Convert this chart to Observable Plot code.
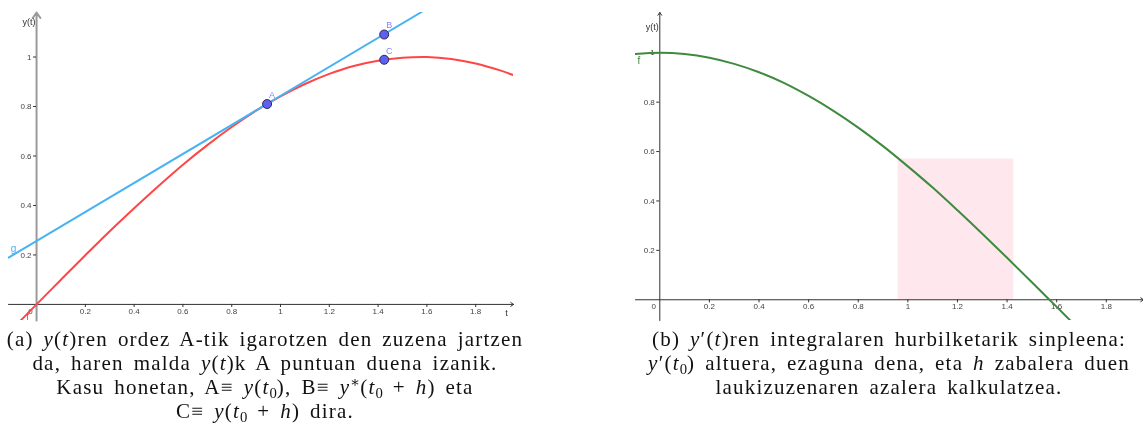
<!DOCTYPE html>
<html><head><meta charset="utf-8">
<script src="https://cdn.jsdelivr.net/npm/d3@7"></script>
<script src="https://cdn.jsdelivr.net/npm/@observablehq/plot@0.6"></script>
<style>
html,body{margin:0;padding:0;background:#fff;width:1143px;height:427px;overflow:hidden;position:relative}
#a{position:absolute;left:0;top:0}
#b{position:absolute;left:620px;top:0}
.cap{position:absolute;font-family:"Liberation Serif","DejaVu Serif",serif;font-size:21px;line-height:24px;letter-spacing:1.2px;word-spacing:3.5px;text-align:center;color:#111;white-space:nowrap}
.cap sub{font-size:0.7em;vertical-align:-0.25em;line-height:0;letter-spacing:0}
.cap sup{font-size:0.7em;vertical-align:0.45em;line-height:0;letter-spacing:0}
</style></head><body>
<div id="a"></div><div id="b"></div>
<div class="cap" style="left:0;width:530px;top:327px">(a) <i>y</i>(<i>t</i>)ren ordez A-tik igarotzen den zuzena jartzen<br>da, haren malda <i>y</i>(<i>t</i>)k A puntuan duena izanik.<br>Kasu honetan, A≡ <i>y</i>(<i>t</i><sub>0</sub>), B≡ <i>y</i><sup>∗</sup>(<i>t</i><sub>0</sub> + <i>h</i>) eta<br>C≡ <i>y</i>(<i>t</i><sub>0</sub> + <i>h</i>) dira.</div>
<div class="cap" style="left:620px;width:538px;top:327px">(b) <i>y</i>′(<i>t</i>)ren integralaren hurbilketarik sinpleena:<br><i>y</i>′(<i>t</i><sub>0</sub>) altuera, ezaguna dena, eta <i>h</i> zabalera duen<br>laukizuzenaren azalera kalkulatzea.</div>
<script>
// ---- data ----
const redT = [-0.12, 0, 0.1, 0.2, 0.3, 0.4, 0.5, 0.6, 0.7, 0.8, 0.9, 1.0, 1.1, 1.2, 1.3, 1.4, 1.5, 1.6, 1.7, 1.8, 1.9, 1.96];
const redY = [-0.12, 0, 0.10, 0.199, 0.296, 0.389, 0.479, 0.565, 0.644, 0.717, 0.783, 0.841, 0.891, 0.932, 0.964, 0.985, 0.997, 1.0, 0.992, 0.974, 0.946, 0.925];
const tangentT = [-0.115, 1.58];
const tangentY = [0.189, 1.183];
const pointNames = ["A", "B", "C"];
const pointT = [0.945, 1.425, 1.425];
const pointY = [0.81, 1.091, 0.989];

const greenT = [-0.1, 0, 0.1, 0.2, 0.3, 0.4, 0.5, 0.6, 0.7, 0.8, 0.9, 1.0, 1.1, 1.2, 1.3, 1.4, 1.5, 1.6, 1.7];
const greenY = [0.995, 1, 0.995, 0.980, 0.955, 0.921, 0.878, 0.825, 0.765, 0.697, 0.622, 0.540, 0.454, 0.362, 0.267, 0.170, 0.071, -0.029, -0.129];
const rectStart = 0.961;
const rectEnd = 1.427;
const rectHeight = 0.57;

const xTicks = [0.2, 0.4, 0.6, 0.8, 1, 1.2, 1.4, 1.6, 1.8];
const yTicks = [0.2, 0.4, 0.6, 0.8, 1];
const xTickLabels = ["0.2", "0.4", "0.6", "0.8", "1", "1.2", "1.4", "1.6", "1.8"];
const yTickLabels = ["0.2", "0.4", "0.6", "0.8", "1"];

const leftXDomain = [-0.115, 1.955];
const leftYDomain = [-0.065, 1.18];
const rightXDomain = [-0.098, 1.95];
const rightYDomain = [-0.084, 1.163];

// ---- build tables ----
const red = redT.map((t, i) => ({t, y: redY[i]}));
const tangent = tangentT.map((t, i) => ({t, y: tangentY[i]}));
const pts = pointNames.map((n, i) => ({n, t: pointT[i], y: pointY[i]}));
const green = greenT.map((t, i) => ({t, y: greenY[i]}));
const xt = xTicks.map((v, i) => ({v, s: xTickLabels[i]}));
const yt = yTicks.map((v, i) => ({v, s: yTickLabels[i]}));

const sans = "Liberation Sans, Arial, sans-serif";
const tickFont = {fontFamily: sans, fontSize: 8, fill: "#444"};

function axes(xDom, yDom, yAxisColor, yAxisWidth, showT) {
  const tl = (xDom[1] - xDom[0]) * 0.006;
  const tly = (yDom[1] - yDom[0]) * 0.01;
  const m = [
    Plot.arrow([{x1: xDom[0], y1: 0, x2: xDom[1], y2: 0}], {x1: "x1", y1: "y1", x2: "x2", y2: "y2", stroke: "#333", strokeWidth: 1, headLength: 5, headAngle: 70}),
    Plot.arrow([{x1: 0, y1: yDom[0], x2: 0, y2: yDom[1]}], {x1: "x1", y1: "y1", x2: "x2", y2: "y2", stroke: yAxisColor, strokeWidth: yAxisWidth, headLength: 5, headAngle: 70}),
    Plot.ruleX(xt, {x: "v", y1: 0, y2: -tly, stroke: "#333", strokeWidth: 1}),
    Plot.ruleY(yt, {y: "v", x1: -tl, x2: 0, stroke: "#333", strokeWidth: 1}),
    Plot.text(xt, {x: "v", y: 0, text: "s", dy: 7, ...tickFont}),
    Plot.text(yt, {x: 0, y: "v", text: "s", dx: -5, textAnchor: "end", ...tickFont}),
    Plot.text(["0"], {x: 0, y: 0, text: d => d, dx: -6, dy: 7, ...tickFont}),
    Plot.text(["y(t)"], {x: 0, y: yDom[1], text: d => d, textAnchor: "end", dx: -1, dy: showT ? 10 : 15, fontFamily: sans, fontSize: 9, fill: "#333"})
  ];
  if (showT) m.push(Plot.text(["t"], {x: xDom[1], y: 0, text: d => d, dx: -7, dy: 9, fontFamily: sans, fontSize: 9, fill: "#333"}));
  return m;
}

const left = Plot.plot({
  width: 530, height: 322,
  marginLeft: 8, marginRight: 17, marginTop: 12, marginBottom: 2,
  x: {domain: leftXDomain, axis: null},
  y: {domain: leftYDomain, axis: null},
  style: {background: "transparent", overflow: "visible"},
  marks: [
    ...axes(leftXDomain, leftYDomain, "#9a9a9a", 2, true),
    Plot.line(red, {x: "t", y: "y", stroke: "#ff4646", strokeWidth: 2, curve: "catmull-rom", clip: true}),
    Plot.line(tangent, {x: "t", y: "y", stroke: "#48b2f2", strokeWidth: 2, clip: true, mixBlendMode: "multiply"}),
    Plot.dot(pts, {x: "t", y: "y", r: 4.5, fill: "#5f5ff2", stroke: "#2c2c55", strokeWidth: 1}),
    Plot.text(pts, {x: "t", y: "y", text: "n", dx: 5, dy: -9, fill: "#8585ff", fontFamily: sans, fontSize: 9}),
    Plot.text(red.filter(d => d.t === 0), {x: "t", y: "y", text: d => "f", dx: -9, dy: 12, fill: "#ff4646", fontFamily: sans, fontSize: 10}),
    Plot.text(tangent.slice(0, 1), {x: "t", y: "y", text: d => "g", dx: 5, dy: -9, fill: "#48b2f2", fontFamily: sans, fontSize: 10})
  ]
});
document.getElementById("a").appendChild(left);

const right = Plot.plot({
  width: 523, height: 322,
  marginLeft: 15, marginRight: 0, marginTop: 12, marginBottom: 2,
  x: {domain: rightXDomain, axis: null},
  y: {domain: rightYDomain, axis: null},
  style: {background: "transparent", overflow: "visible"},
  marks: [
    Plot.rect([{x1: rectStart, x2: rectEnd, y2: rectHeight}], {x1: "x1", x2: "x2", y1: 0, y2: "y2", fill: "#ffe7ee"}),
    ...axes(rightXDomain, rightYDomain, "#333", 1, false),
    Plot.line(green, {x: "t", y: "y", stroke: "#3e8a3e", strokeWidth: 2, curve: "catmull-rom", clip: true}),
    Plot.text(green.slice(0, 1), {x: "t", y: "y", text: d => "f", dx: 4, dy: 7, fill: "#3e8a3e", fontFamily: sans, fontSize: 10})
  ]
});
document.getElementById("b").appendChild(right);
</script>
</body></html>
